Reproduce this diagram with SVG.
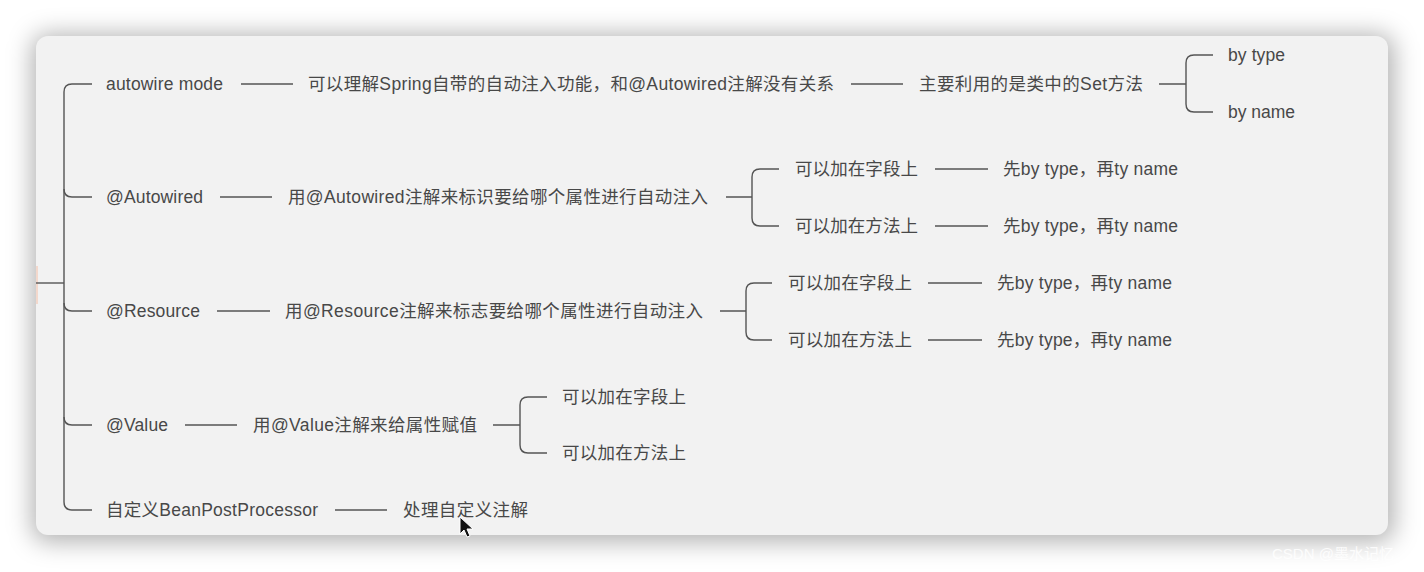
<svg xmlns="http://www.w3.org/2000/svg" width="1424" height="572" viewBox="0 0 1424 572">
<style>
.t{font-family:"Liberation Sans","Noto Sans CJK SC",sans-serif;font-size:17.5px;fill:#484848}
.c{fill:none;stroke:#555555;stroke-width:1.4}
</style>
<defs>
<filter id="blur" x="-10%" y="-20%" width="120%" height="140%">
<feGaussianBlur stdDeviation="12"/>
</filter>
</defs>
<rect width="1424" height="572" fill="#ffffff"/>
<rect x="32" y="34" width="1362" height="508" rx="16" fill="#000" fill-opacity="0.30" filter="url(#blur)"/>
<rect x="36" y="36" width="1352" height="499" rx="12" fill="#f2f2f2"/>
<rect x="36" y="266" width="2" height="38" fill="#f3d8cc"/>
<g id="connectors">
<path class="c" d="M36 283 H64"/>
<path class="c" d="M92 84 H72 Q64 84 64 92 V502 Q64 510 72 510 H92"/>
<path class="c" d="M64 189 Q64 197 72 197 H92"/>
<path class="c" d="M64 303 Q64 311 72 311 H92"/>
<path class="c" d="M64 417 Q64 425 72 425 H92"/>
<path class="c" d="M241 84 H293 M851 84 H903 M1159 84 H1186"/>
<path class="c" d="M1213 55 H1194 Q1186 55 1186 63 V104 Q1186 112 1194 112 H1213"/>
<path class="c" d="M220 197 H272 M726 197 H752"/>
<path class="c" d="M779 169 H760 Q752 169 752 177 V218 Q752 226 760 226 H779"/>
<path class="c" d="M935 169 H988 M935 226 H988"/>
<path class="c" d="M217 311 H270 M720 311 H746"/>
<path class="c" d="M772 283 H754 Q746 283 746 291 V332 Q746 340 754 340 H772"/>
<path class="c" d="M928 283 H982 M928 340 H982"/>
<path class="c" d="M185 425 H237 M493 425 H520"/>
<path class="c" d="M547 397 H528 Q520 397 520 405 V445 Q520 453 528 453 H547"/>
<path class="c" d="M335 510 H387"/>
</g>
<g id="n-autowire-mode"><text class="t" x="106" y="90" textLength="117" lengthAdjust="spacing">autowire mode</text></g>
<g id="n-spring-auto"><text class="t" x="308" y="90" textLength="526" lengthAdjust="spacing">可以理解Spring自带的自动注入功能，和@Autowired注解没有关系</text></g>
<g id="n-set"><text class="t" x="919" y="90" textLength="224" lengthAdjust="spacing">主要利用的是类中的Set方法</text></g>
<g id="n-bytype"><text class="t" x="1228" y="61" textLength="57" lengthAdjust="spacing">by type</text></g>
<g id="n-byname"><text class="t" x="1228" y="118" textLength="67" lengthAdjust="spacing">by name</text></g>
<g id="n-autowired"><text class="t" x="106" y="203" textLength="97" lengthAdjust="spacing">@Autowired</text></g>
<g id="n-autowired-desc"><text class="t" x="288" y="203" textLength="420" lengthAdjust="spacing">用@Autowired注解来标识要给哪个属性进行自动注入</text></g>
<g id="n-aw-field"><text class="t" x="795" y="175" textLength="123" lengthAdjust="spacing">可以加在字段上</text></g>
<g id="n-aw-field-r"><text class="t" x="1003" y="175" textLength="175" lengthAdjust="spacing">先by type，再ty name</text></g>
<g id="n-aw-method"><text class="t" x="795" y="232" textLength="123" lengthAdjust="spacing">可以加在方法上</text></g>
<g id="n-aw-method-r"><text class="t" x="1003" y="232" textLength="175" lengthAdjust="spacing">先by type，再ty name</text></g>
<g id="n-resource"><text class="t" x="106" y="317" textLength="94" lengthAdjust="spacing">@Resource</text></g>
<g id="n-resource-desc"><text class="t" x="285" y="317" textLength="418" lengthAdjust="spacing">用@Resource注解来标志要给哪个属性进行自动注入</text></g>
<g id="n-rs-field"><text class="t" x="788" y="289" textLength="124" lengthAdjust="spacing">可以加在字段上</text></g>
<g id="n-rs-field-r"><text class="t" x="997" y="289" textLength="175" lengthAdjust="spacing">先by type，再ty name</text></g>
<g id="n-rs-method"><text class="t" x="788" y="346" textLength="124" lengthAdjust="spacing">可以加在方法上</text></g>
<g id="n-rs-method-r"><text class="t" x="997" y="346" textLength="175" lengthAdjust="spacing">先by type，再ty name</text></g>
<g id="n-value"><text class="t" x="106" y="431" textLength="62" lengthAdjust="spacing">@Value</text></g>
<g id="n-value-desc"><text class="t" x="253" y="431" textLength="224" lengthAdjust="spacing">用@Value注解来给属性赋值</text></g>
<g id="n-v-field"><text class="t" x="562" y="403" textLength="124" lengthAdjust="spacing">可以加在字段上</text></g>
<g id="n-v-method"><text class="t" x="562" y="459" textLength="124" lengthAdjust="spacing">可以加在方法上</text></g>
<g id="n-bpp"><text class="t" x="106" y="516" textLength="212" lengthAdjust="spacing">自定义BeanPostProcessor</text></g>
<g id="n-bpp-desc"><text class="t" x="403" y="516" textLength="125" lengthAdjust="spacing">处理自定义注解</text></g>
<path d="M460 517 L460 534 L464 530 L467 537 L470 536 L467 529 L473 529 Z" fill="#111" stroke="#fff" stroke-width="1"/>
<text x="1272" y="559" font-family="'Liberation Sans','Noto Sans CJK SC',sans-serif" font-size="15" fill="#ffffff" fill-opacity="0.85">CSDN @墨水记忆</text>
</svg>
